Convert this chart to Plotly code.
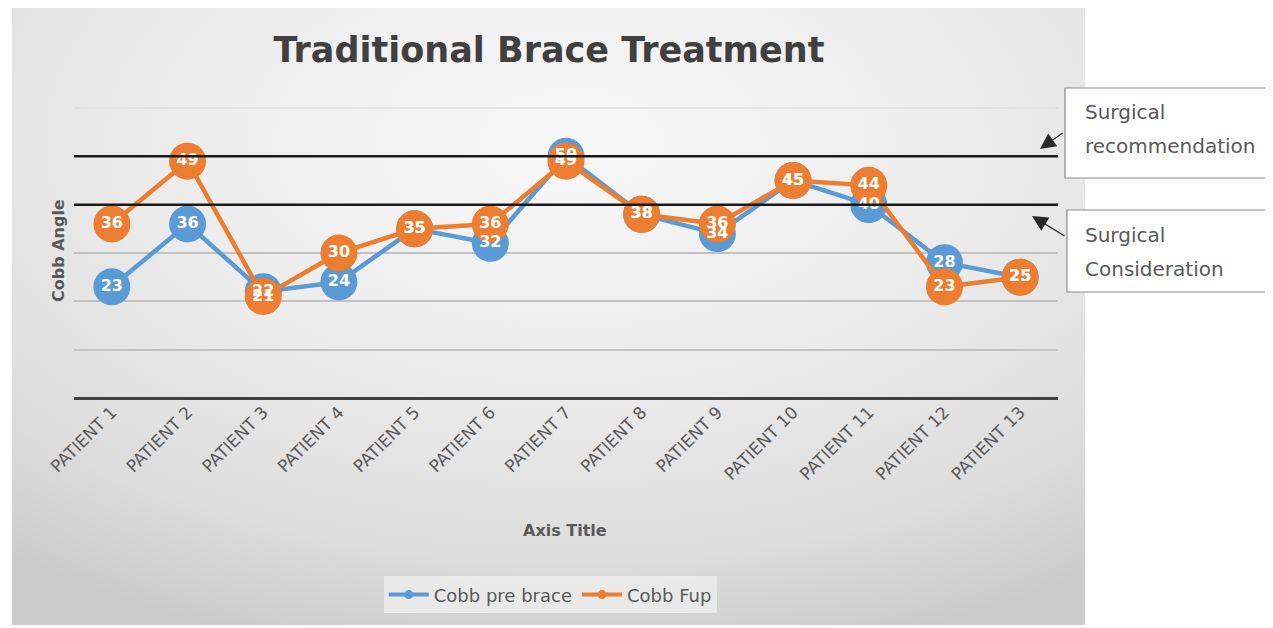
import base64
import plotly.graph_objects as go

patients = ["PATIENT 1", "PATIENT 2", "PATIENT 3", "PATIENT 4", "PATIENT 5", "PATIENT 6",
            "PATIENT 7", "PATIENT 8", "PATIENT 9", "PATIENT 10", "PATIENT 11", "PATIENT 12", "PATIENT 13"]
cobb_pre_brace = [23, 36, 22, 24, 35, 32, 50, 38, 34, 45, 40, 28, 25]
cobb_fup = [36, 49, 21, 30, 35, 36, 49, 38, 36, 45, 44, 23, 25]
thresholds = [50, 40]
threshold_labels = [["Surgical", "recommendation"], ["Surgical", "Consideration"]]

BLUE = "#5B9BD5"
ORANGE = "#ED7D31"
FONT = "DejaVu Sans"
GREY = "#595959"

fig = go.Figure()

for name, vals, col in [("Cobb pre brace", cobb_pre_brace, BLUE), ("Cobb Fup", cobb_fup, ORANGE)]:
    fig.add_trace(go.Scatter(x=patients, y=vals, mode="lines+markers", name=name,
                             line=dict(color=col, width=4.5),
                             marker=dict(size=37, color=col),
                             showlegend=False, hoverinfo="x+y"))
for vals in [cobb_pre_brace, cobb_fup]:
    fig.add_trace(go.Scatter(x=patients, y=vals, mode="text", text=[str(v) for v in vals],
                             textposition="middle center",
                             textfont=dict(color="white", size=16, family=FONT, weight="bold"),
                             showlegend=False, hoverinfo="skip"))
for name, col in [("Cobb pre brace", BLUE), ("Cobb Fup", ORANGE)]:
    fig.add_trace(go.Scatter(x=[None], y=[None], mode="lines+markers", name=name,
                             line=dict(color=col, width=4), marker=dict(size=9, color=col)))

# faint top gridline
fig.add_shape(type="line", xref="paper", x0=0, x1=1, yref="paper", y0=1, y1=1,
              line=dict(color="#dedede", width=1.5), layer="below")
for t in thresholds:
    fig.add_shape(type="line", xref="paper", x0=0, x1=1, yref="y", y0=t, y1=t,
                  line=dict(color="#1a1a1a", width=2.5), layer="above")

# background card with radial gradient
svg = ('<svg xmlns="http://www.w3.org/2000/svg" width="1073" height="620">'
       '<defs><radialGradient id="g" cx="0.52" cy="0.22" r="0.85">'
       '<stop offset="0" stop-color="#f8f8f8"/><stop offset="0.45" stop-color="#ececec"/>'
       '<stop offset="0.8" stop-color="#dcdcdc"/><stop offset="1" stop-color="#cbcbcb"/>'
       '</radialGradient></defs><rect width="1073" height="620" fill="url(#g)"/></svg>')
src = "data:image/svg+xml;base64," + base64.b64encode(svg.encode()).decode()
fig.add_layout_image(source=src, xref="paper", yref="paper", x=-0.0630, y=1.3552,
                     sizex=1.0905, sizey=2.1379, sizing="stretch", xanchor="left",
                     yanchor="top", layer="below")

# callout boxes
for (y0, y1, x0) in [(0.7586, 1.069, 1.0071), (0.3655, 0.6483, 1.0091)]:
    fig.add_shape(type="rect", xref="paper", yref="paper", x0=x0, x1=1.26, y0=y0, y1=y1,
                  fillcolor="white", line=dict(color="#8c8c8c", width=1.2), layer="above")
for lines, ys in zip(threshold_labels, [(0.9862, 0.869), (0.562, 0.4448)]):
    for txt, yy in zip(lines, ys):
        fig.add_annotation(text=txt, xref="paper", yref="paper", x=1.0254, y=yy,
                           xanchor="left", yanchor="middle", showarrow=False,
                           font=dict(size=20, color=GREY, family=FONT))
for (hx, hy, ax, ay) in [(0.9817, 0.8586, 24, -17), (0.9736, 0.6276, 34, 21)]:
    fig.add_annotation(text="", xref="paper", yref="paper", x=hx, y=hy, ax=ax, ay=ay,
                       showarrow=True, arrowhead=2, arrowsize=2.6, arrowwidth=1.2,
                       arrowcolor="#2a2a2a")

fig.add_annotation(text="<b>Cobb Angle</b>", xref="paper", yref="paper", x=-0.0163, y=0.51,
                   xanchor="center", yanchor="middle",
                   textangle=-90, showarrow=False, font=dict(size=16, color=GREY, family=FONT))
fig.add_annotation(text="<b>Axis Title</b>", xref="paper", yref="paper", x=0.4990, y=-0.4586,
                   xanchor="center", yanchor="middle",
                   showarrow=False, font=dict(size=16, color=GREY, family=FONT))

fig.update_layout(
    width=1273, height=628,
    margin=dict(l=66, r=223, t=100, b=238),
    paper_bgcolor="white", plot_bgcolor="rgba(0,0,0,0)",
    title=dict(text="<b>Traditional Brace Treatment</b>", x=0.4827, xref="paper",
               y=1 - 42 / 628, yref="container", xanchor="center", yanchor="middle",
               font=dict(size=35, color="#404040", family=FONT)),
    legend=dict(orientation="h", x=0.484, y=-0.679, xanchor="center", yanchor="middle",
                bgcolor="rgba(236,236,236,0.85)", font=dict(size=18, color=GREY, family=FONT),
                itemwidth=40, traceorder="normal"),
    font=dict(family=FONT, color=GREY),
)
fig.update_xaxes(type="category", range=[-0.5, 12.5], tickangle=-45, showgrid=False,
                 zeroline=False, showline=False,
                 tickfont=dict(size=17, color=GREY, family=FONT), ticks="", ticklen=0)
fig.update_yaxes(range=[0, 60], dtick=10, showticklabels=False, showgrid=True,
                 gridcolor="#c2c2c2", gridwidth=2, zeroline=True, zerolinecolor="#404040",
                 zerolinewidth=2.5, fixedrange=True)

fig.write_html("out.html")
